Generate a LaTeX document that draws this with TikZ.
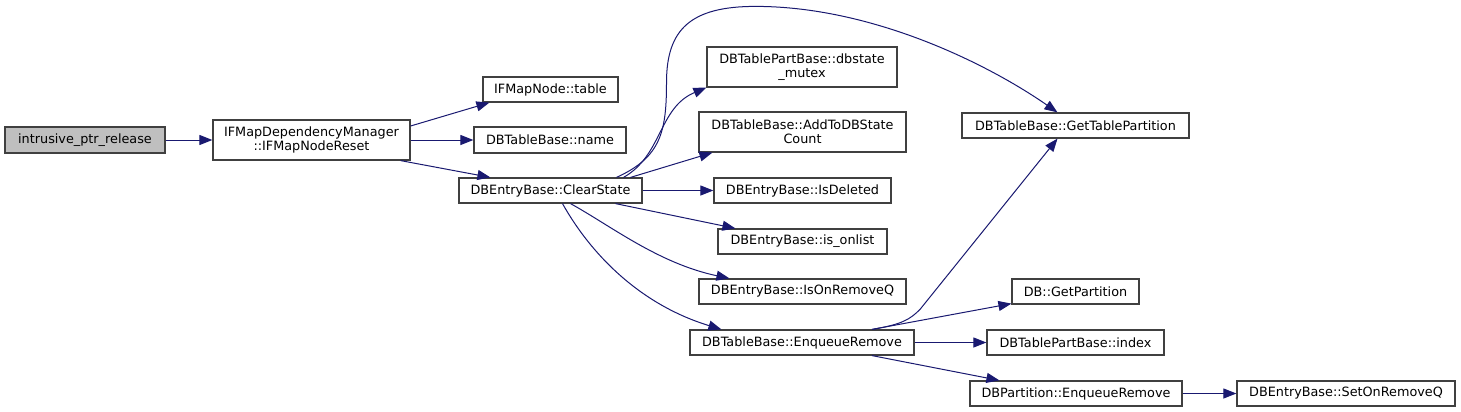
\documentclass[tikz,border=0pt]{standalone}
\usepackage{fontspec}
\setmainfont{DejaVu Sans}
\usetikzlibrary{arrows.meta,calc}
\definecolor{edgeblue}{HTML}{191970}
\definecolor{boxline}{HTML}{404040}
\definecolor{rootfill}{HTML}{BFBFBF}
\tikzset{
  fn/.style={draw=boxline, line width=1.2pt, rectangle, inner sep=0pt, align=center,
    font=\fontsize{12.8}{14}\selectfont, text=black},
  call/.style={draw=edgeblue, line width=1pt, -{Triangle[length=13pt,width=10pt]}, edgeblue, fill=none}
}
\begin{document}
\begin{tikzpicture}[x=1pt,y=-1pt]
\useasboundingbox (0,0) rectangle (1461,412);
\node[fn, fill=rootfill, minimum width=160, minimum height=26] (rel) at (85,140) {intrusive\_ptr\_release};
\node[fn, fill=white, minimum width=197, minimum height=40] (reset) at (311.5,140) {IFMapDependencyManager\\::IFMapNodeReset};
\node[fn, minimum width=135, minimum height=25] (table) at (550.5,89.5) {IFMapNode::table};
\node[fn, minimum width=152, minimum height=26] (name) at (550,140) {DBTableBase::name};
\node[fn, minimum width=183, minimum height=25] (clear) at (550.5,190.5) {DBEntryBase::ClearState};
\node[fn, minimum width=190, minimum height=40] (mutex) at (802,67) {DBTablePartBase::dbstate\\\_mutex};
\node[fn, minimum width=207, minimum height=40] (addto) at (802.5,132) {DBTableBase::AddToDBState\\Count};
\node[fn, minimum width=177, minimum height=25] (isdel) at (802.5,190.5) {DBEntryBase::IsDeleted};
\node[fn, minimum width=169, minimum height=25] (onlist) at (802.5,241.5) {DBEntryBase::is\_onlist};
\node[fn, minimum width=207, minimum height=25] (onrq) at (802.5,291.5) {DBEntryBase::IsOnRemoveQ};
\node[fn, minimum width=224, minimum height=25] (enq) at (802,342.5) {DBTableBase::EnqueueRemove};
\node[fn, minimum width=227, minimum height=25] (gtp) at (1075.5,125.5) {DBTableBase::GetTablePartition};
\node[fn, minimum width=127, minimum height=25] (dbgp) at (1075.5,291.5) {DB::GetPartition};
\node[fn, minimum width=177, minimum height=25] (idx) at (1075.5,342.5) {DBTablePartBase::index};
\node[fn, minimum width=212, minimum height=25] (penq) at (1076,393.5) {DBPartition::EnqueueRemove};
\node[fn, minimum width=218, minimum height=25] (set) at (1346,393.5) {DBEntryBase::SetOnRemoveQ};

\draw[call] (rel.east) -- (reset.west);
\draw[call] ($(reset.east)+(0,-14)$) -- ($(table.south west)+(7,0)$);
\draw[call] (reset.east) -- (name.west);
\draw[call] ($(reset.south east)+(-10,0)$) -- ($(clear.north west)+(32,0)$);
\draw[call] ($(clear.north)+(73,0)$) .. controls ($(clear.north)+(112,-22)$) and ($(mutex.south west)+(-48,20)$) .. ($(mutex.south west)+(0,0)$);
\draw[call] ($(clear.north)+(66,0)$) .. controls ($(clear.north)+(110,-20)$) and ($(clear.north)+(116,-45)$) .. ($(clear.north)+(116,-95)$)
  .. controls ($(clear.north)+(116,-148)$) and ($(clear.north)+(140,-171)$) .. ($(clear.north)+(205,-171)$)
  .. controls ($(clear.north)+(320,-171)$) and ($(gtp.north)+(-90,-50)$) .. ($(gtp.north)+(-18,0)$);
\draw[call] ($(clear.north)+(80,0)$) -- ($(addto.south west)+(14,0)$);
\draw[call] (clear.east) -- (isdel.west);
\draw[call] ($(clear.south)+(65,0)$) -- ($(onlist.north west)+(18,0)$);
\draw[call] ($(clear.south)+(20,0)$) .. controls ($(clear.south)+(60,22)$) and ($(onrq.north west)+(-40,-15)$) .. ($(onrq.north west)+(31,0)$);
\draw[call] ($(clear.south)+(12,0)$) .. controls ($(clear.south)+(40,50)$) and ($(enq.north west)+(-50,-25)$) .. ($(enq.north west)+(32,0)$);
\draw[call] ($(enq.north)+(70,0)$) .. controls ($(enq.north)+(100,-5)$) and ($(enq.north)+(108,-10)$) .. ($(enq.north)+(118,-20)$) -- ($(gtp.south)+(-18,0)$);
\draw[call] ($(enq.north)+(70,0)$) -- ($(dbgp.south west)+(0,-1)$);
\draw[call] (enq.east) -- (idx.west);
\draw[call] ($(enq.south)+(70,0)$) -- ($(penq.north west)+(30,0)$);
\draw[call] (penq.east) -- (set.west);
\end{tikzpicture}
\end{document}
